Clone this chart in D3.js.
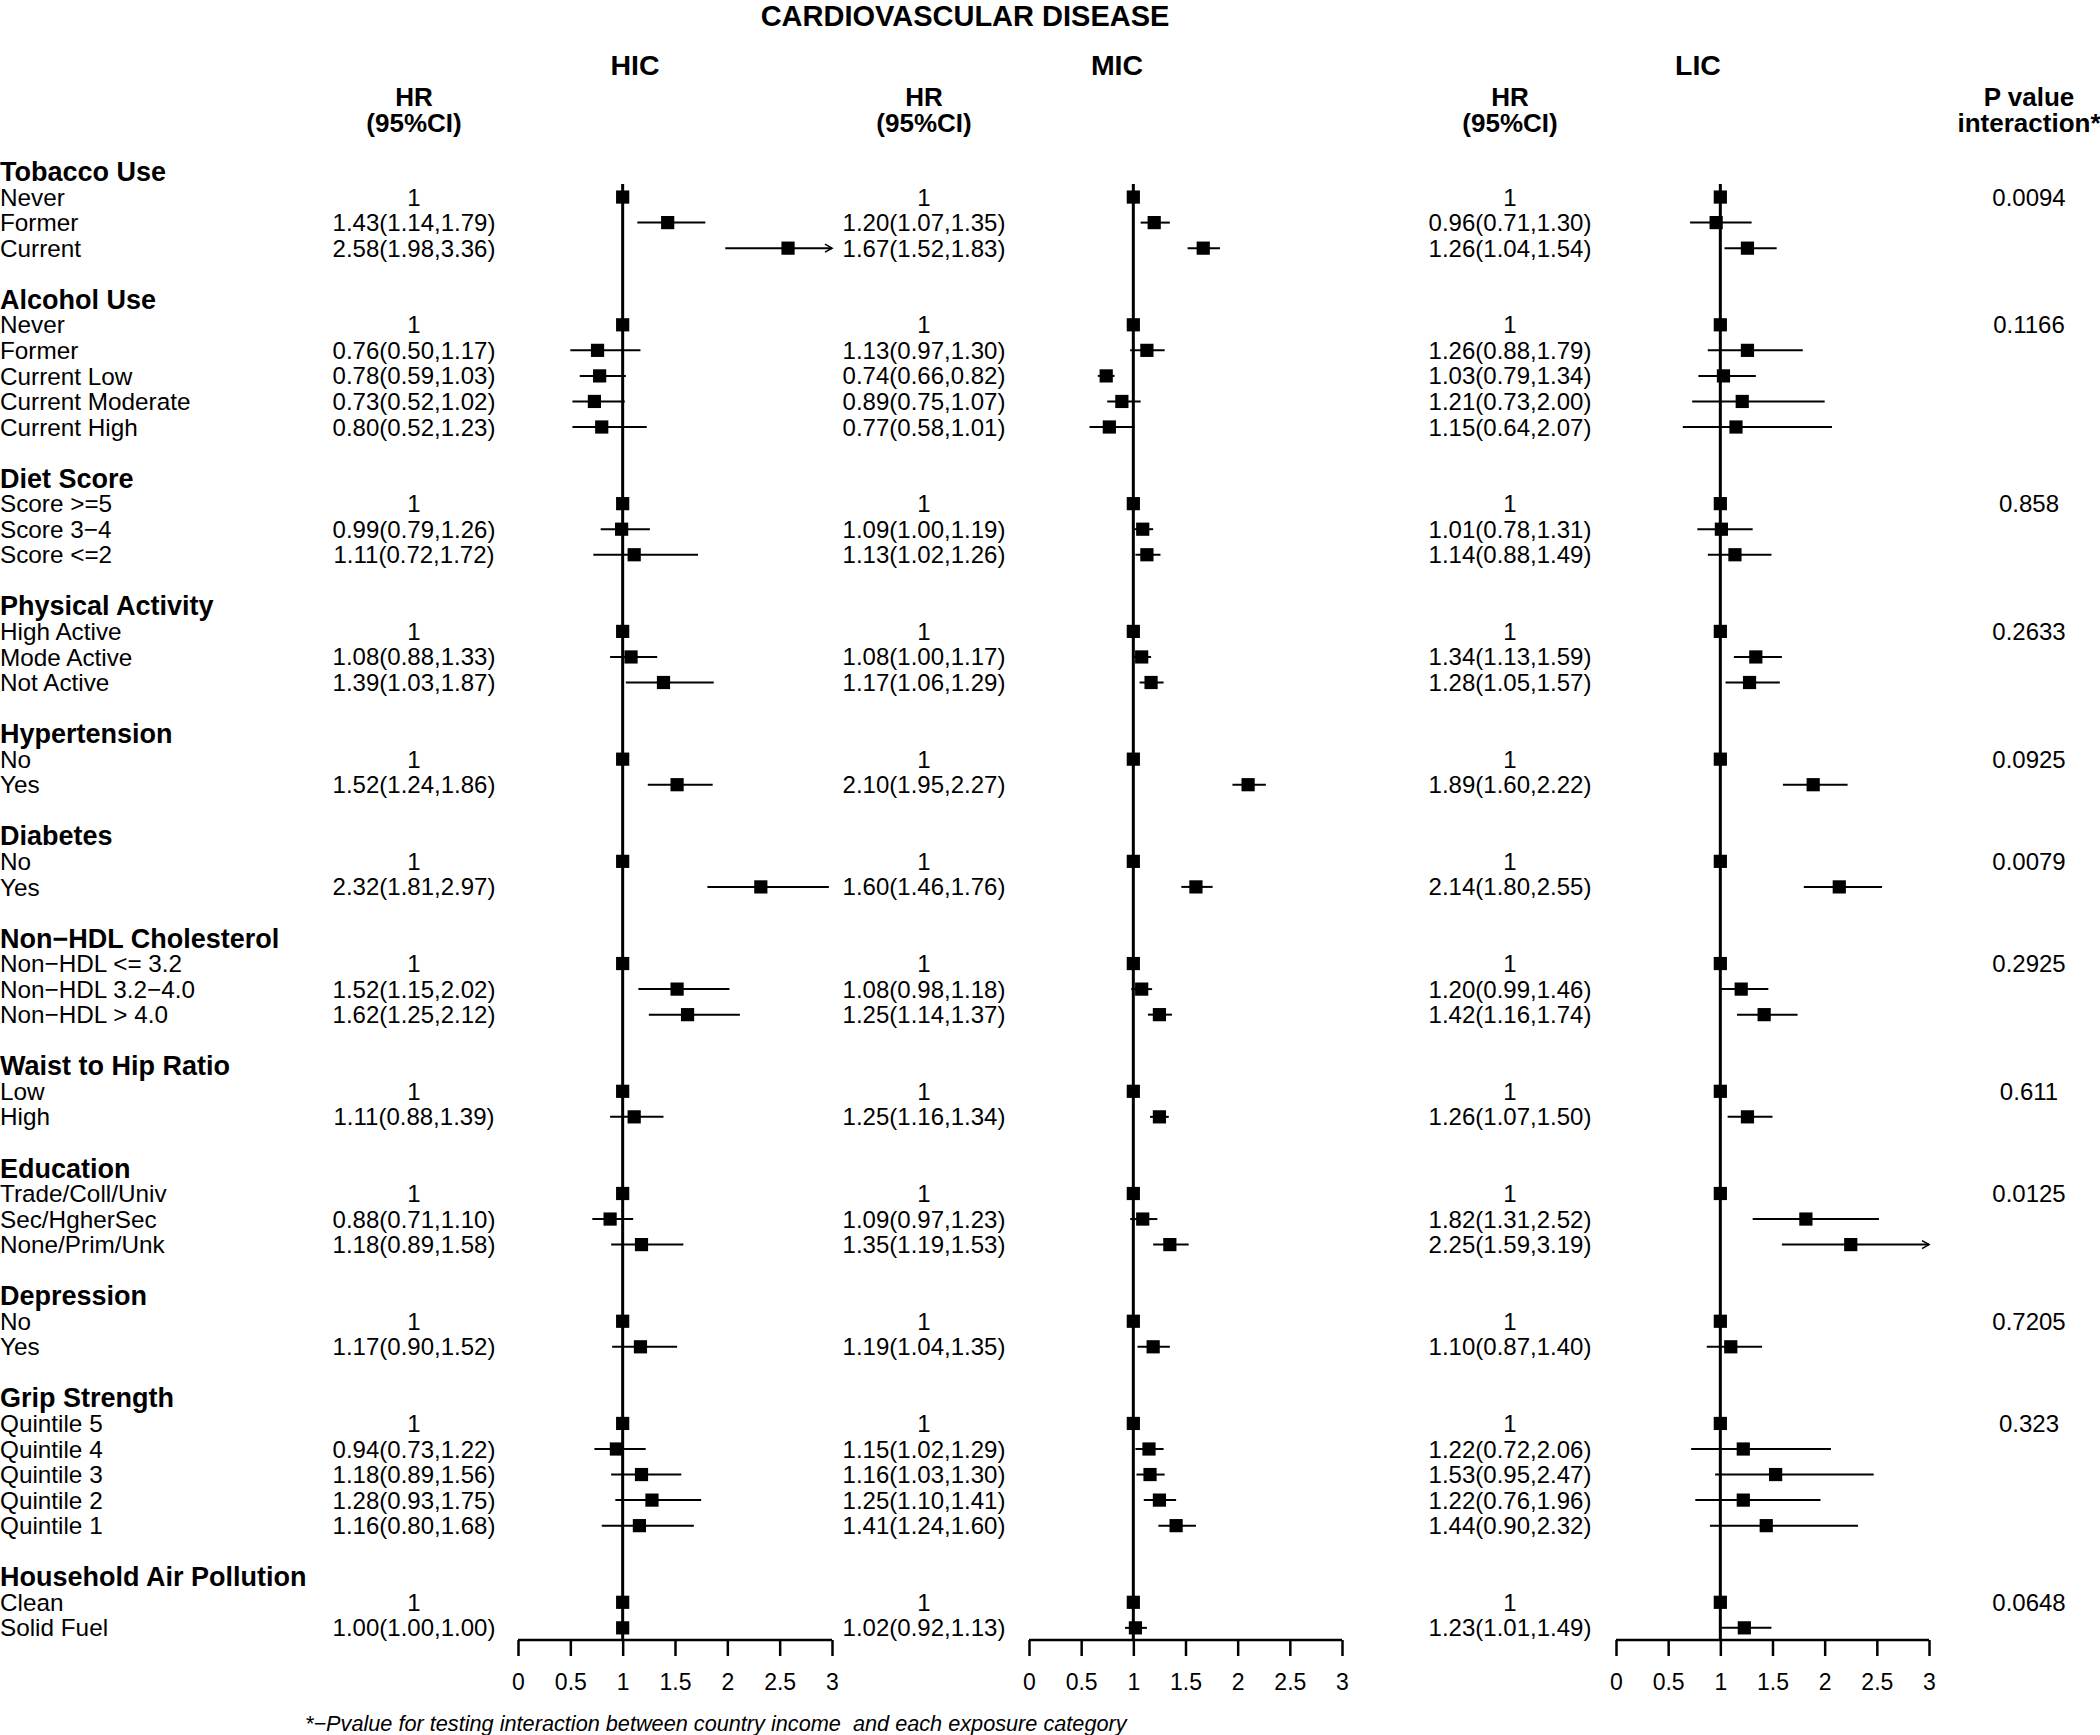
<!DOCTYPE html>
<html>
<head>
<meta charset="utf-8">
<script src="https://cdn.jsdelivr.net/npm/d3@7"></script>
<style>
  html, body { margin: 0; padding: 0; background: #fff; }
  svg { display: block; }
  text { font-family: "Liberation Sans", Arial, Helvetica, sans-serif; fill: #000; }
</style>
</head>
<body>
<script>
// ---------------- DATA ----------------
const title = "CARDIOVASCULAR DISEASE";
const regionNames = ["HIC", "MIC", "LIC"];
const groupNames = ["Tobacco Use", "Alcohol Use", "Diet Score", "Physical Activity", "Hypertension",
  "Diabetes", "Non\u2212HDL Cholesterol", "Waist to Hip Ratio", "Education", "Depression",
  "Grip Strength", "Household Air Pollution"];
const groupItems = [
  ["Never", "Former", "Current"],
  ["Never", "Former", "Current Low", "Current Moderate", "Current High"],
  ["Score >=5", "Score 3\u22124", "Score <=2"],
  ["High Active", "Mode Active", "Not Active"],
  ["No", "Yes"],
  ["No", "Yes"],
  ["Non\u2212HDL <= 3.2", "Non\u2212HDL 3.2\u22124.0", "Non\u2212HDL > 4.0"],
  ["Low", "High"],
  ["Trade/Coll/Univ", "Sec/HgherSec", "None/Prim/Unk"],
  ["No", "Yes"],
  ["Quintile 5", "Quintile 4", "Quintile 3", "Quintile 2", "Quintile 1"],
  ["Clean", "Solid Fuel"]
];
const pValues = ["0.0094", "0.1166", "0.858", "0.2633", "0.0925", "0.0079", "0.2925", "0.611",
  "0.0125", "0.7205", "0.323", "0.0648"];
// [HR, lower, upper]; reference category = [1]
const hic = [[1],[1.43,1.14,1.79],[2.58,1.98,3.36],
  [1],[0.76,0.50,1.17],[0.78,0.59,1.03],[0.73,0.52,1.02],[0.80,0.52,1.23],
  [1],[0.99,0.79,1.26],[1.11,0.72,1.72],
  [1],[1.08,0.88,1.33],[1.39,1.03,1.87],
  [1],[1.52,1.24,1.86],
  [1],[2.32,1.81,2.97],
  [1],[1.52,1.15,2.02],[1.62,1.25,2.12],
  [1],[1.11,0.88,1.39],
  [1],[0.88,0.71,1.10],[1.18,0.89,1.58],
  [1],[1.17,0.90,1.52],
  [1],[0.94,0.73,1.22],[1.18,0.89,1.56],[1.28,0.93,1.75],[1.16,0.80,1.68],
  [1],[1.00,1.00,1.00]];
const mic = [[1],[1.20,1.07,1.35],[1.67,1.52,1.83],
  [1],[1.13,0.97,1.30],[0.74,0.66,0.82],[0.89,0.75,1.07],[0.77,0.58,1.01],
  [1],[1.09,1.00,1.19],[1.13,1.02,1.26],
  [1],[1.08,1.00,1.17],[1.17,1.06,1.29],
  [1],[2.10,1.95,2.27],
  [1],[1.60,1.46,1.76],
  [1],[1.08,0.98,1.18],[1.25,1.14,1.37],
  [1],[1.25,1.16,1.34],
  [1],[1.09,0.97,1.23],[1.35,1.19,1.53],
  [1],[1.19,1.04,1.35],
  [1],[1.15,1.02,1.29],[1.16,1.03,1.30],[1.25,1.10,1.41],[1.41,1.24,1.60],
  [1],[1.02,0.92,1.13]];
const lic = [[1],[0.96,0.71,1.30],[1.26,1.04,1.54],
  [1],[1.26,0.88,1.79],[1.03,0.79,1.34],[1.21,0.73,2.00],[1.15,0.64,2.07],
  [1],[1.01,0.78,1.31],[1.14,0.88,1.49],
  [1],[1.34,1.13,1.59],[1.28,1.05,1.57],
  [1],[1.89,1.60,2.22],
  [1],[2.14,1.80,2.55],
  [1],[1.20,0.99,1.46],[1.42,1.16,1.74],
  [1],[1.26,1.07,1.50],
  [1],[1.82,1.31,2.52],[2.25,1.59,3.19],
  [1],[1.10,0.87,1.40],
  [1],[1.22,0.72,2.06],[1.53,0.95,2.47],[1.22,0.76,1.96],[1.44,0.90,2.32],
  [1],[1.23,1.01,1.49]];
const tickValues = [0, 0.5, 1, 1.5, 2, 2.5, 3];
const footnote = "*\u2212Pvalue for testing interaction between country income  and each exposure category";

// ---------------- LAYOUT ----------------
const W = 2100, H = 1735;
const svg = d3.select("body").append("svg").attr("width", W).attr("height", H);

// build rows
const rows = [];
let r = 0, k = 0;
groupNames.forEach((g, gi) => {
  rows.push({ type: "head", label: g, row: r++ });
  groupItems[gi].forEach((it, ii) => {
    rows.push({ type: "item", label: it, row: r, idx: k, first: ii === 0, gi });
    r++; k++;
  });
  r++; // blank spacer
});
const lastRow = r - 2;
const y = d3.scaleLinear().domain([0, lastRow]).range([171.5, 171.5 + lastRow * 25.55]);
const axisY = 1640;

const panels = [
  { name: regionNames[0], data: hic, x: d3.scaleLinear().domain([0, 3]).range([518, 832]), hrX: 414, headX: 635 },
  { name: regionNames[1], data: mic, x: d3.scaleLinear().domain([0, 3]).range([1029, 1342]), hrX: 924, headX: 1117 },
  { name: regionNames[2], data: lic, x: d3.scaleLinear().domain([0, 3]).range([1616, 1929]), hrX: 1510, headX: 1698 }
];
const pX = 2029;

function txt(sel, x, yc, s, size, opts = {}) {
  return sel.append("text")
    .attr("x", x).attr("y", yc + size * 0.355)
    .attr("font-size", size)
    .attr("font-weight", opts.bold ? "bold" : null)
    .attr("font-style", opts.italic ? "italic" : null)
    .attr("text-anchor", opts.anchor || "start")
    .style("white-space", "pre")
    .text(s);
}

// title
txt(svg, 965, 15.5, title, 29, { bold: true, anchor: "middle" });

// row labels
rows.forEach(d => {
  if (d.type === "head") txt(svg, 0, y(d.row), d.label, 27, { bold: true });
  else txt(svg, 0, y(d.row), d.label, 24.3);
});

// p value header & values
txt(svg, pX, 97, "P value", 26, { bold: true, anchor: "middle" });
txt(svg, pX, 123, "interaction*", 26, { bold: true, anchor: "middle" });
rows.filter(d => d.type === "item" && d.first).forEach(d => {
  txt(svg, pX, y(d.row), pValues[d.gi], 24, { anchor: "middle" });
});

const fmt = v => v.toFixed(2);
const items = rows.filter(d => d.type === "item");

panels.forEach(p => {
  const g = svg.append("g");
  const x = p.x;
  txt(g, p.headX, 65, p.name, 28.5, { bold: true, anchor: "middle" });
  txt(g, p.hrX, 97, "HR", 26, { bold: true, anchor: "middle" });
  txt(g, p.hrX, 123, "(95%CI)", 26, { bold: true, anchor: "middle" });

  // HR text
  items.forEach(d => {
    const v = p.data[d.idx];
    const s = v.length === 1 ? "1" : `${fmt(v[0])}(${fmt(v[1])},${fmt(v[2])})`;
    txt(g, p.hrX, y(d.row), s, 24, { anchor: "middle" });
  });

  // reference line at 1
  g.append("line")
    .attr("x1", x(1)).attr("x2", x(1))
    .attr("y1", y(1) - 13).attr("y2", axisY)
    .attr("stroke", "#000").attr("stroke-width", 3);

  // axis
  const axis = d3.axisBottom(x).tickValues(tickValues).tickSize(16).tickPadding(18)
    .tickFormat(d3.format("~g"));
  const ag = g.append("g").attr("transform", `translate(0,${axisY})`).call(axis);
  ag.select(".domain").attr("stroke", "#000").attr("stroke-width", 2.5)
    .attr("d", `M${x(0)},0H${x(3)}`);
  ag.selectAll(".tick line").attr("stroke", "#000").attr("stroke-width", 2.5);
  ag.selectAll(".tick text").attr("font-size", 23)
    .attr("font-family", '"Liberation Sans", Arial, sans-serif').attr("fill", "#000")
    .attr("dy", "0.71em");

  // CIs
  items.forEach(d => {
    const v = p.data[d.idx];
    const yc = y(d.row);
    if (v.length === 3) {
      const hi = Math.min(v[2], 3);
      g.append("line").attr("x1", x(v[1])).attr("x2", x(hi))
        .attr("y1", yc).attr("y2", yc)
        .attr("stroke", "#000").attr("stroke-width", 2);
      if (v[2] > 3) {
        g.append("path")
          .attr("d", `M${x(3) - 7},${yc - 4}L${x(3)},${yc}L${x(3) - 7},${yc + 4}`)
          .attr("fill", "none").attr("stroke", "#000").attr("stroke-width", 1.6);
      }
    }
    g.append("rect")
      .attr("x", x(v[0]) - 6.6).attr("y", yc - 6.6)
      .attr("width", 13.2).attr("height", 13.2)
      .attr("fill", "#000");
  });
});

// footnote
txt(svg, 305, 1723, footnote, 21.7, { italic: true });
</script>
</body>
</html>
